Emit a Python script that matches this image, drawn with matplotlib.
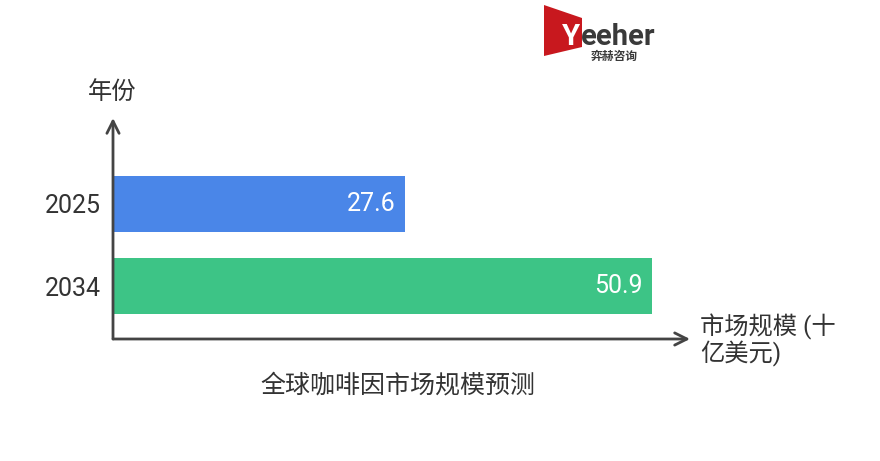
import matplotlib
matplotlib.use("Agg")
import matplotlib.pyplot as plt
from matplotlib.patches import Polygon

plt.rcParams['font.family'] = ['Roboto', 'Noto Sans CJK SC', 'DejaVu Sans']

years = ["2025", "2034"]
values = [27.6, 50.9]
colors = ["#4a86e8", "#3dc486"]
title = "全球咖啡因市场规模预测"
xlabel = "市场规模 (十\n亿美元)"
ylabel = "年份"

W, H = 880, 461
fig = plt.figure(figsize=(W / 100, H / 100), dpi=100)

# axes box in pixels: origin (113, 339), top 118, right 690
x0, y0, x1, y1 = 113, 339, 690, 118
ax = fig.add_axes([x0 / W, (H - y0) / H, (x1 - x0) / W, (y0 - y1) / H])
ax.set_xlim(0, (x1 - x0) / 10.58)
ax.set_ylim(1.64, -1.04)

pos = list(range(len(years)))
ax.barh(pos, values, height=0.68, color=colors)
for p, v in zip(pos, values):
    ax.text(v - 0.85, p, f"{v}", color="white", fontsize=18,
            ha="right", va="center")

ax.set_yticks(pos)
ax.set_yticklabels(years, fontsize=18, color="#333333")
ax.tick_params(axis="y", length=0, pad=9)
ax.set_xticks([])
for s in ax.spines.values():
    s.set_visible(False)

axis_col = "#444444"
ax.annotate("", xy=(0, 1.0), xytext=(0, 0), xycoords="axes fraction",
            arrowprops=dict(arrowstyle="->", lw=2, color=axis_col,
                            mutation_scale=22, shrinkA=0, shrinkB=0))
ax.annotate("", xy=(1.0, 0), xytext=(0, 0), xycoords="axes fraction",
            arrowprops=dict(arrowstyle="->", lw=2, color=axis_col,
                            mutation_scale=22, shrinkA=0, shrinkB=0))

fig.text(112 / W, 1 - 92 / H, ylabel, fontsize=17.5, color="#333333",
         ha="center", va="center")
fig.text(700 / W, 1 - 340 / H, xlabel, fontsize=17.5, color="#333333",
         ha="left", va="center", linespacing=1.05)
fig.text(398 / W, 1 - 385 / H, title, fontsize=18, color="#333333",
         ha="center", va="center")

# logo
logo = Polygon([(544 / W, 1 - 5 / H), (582 / W, 1 - 18 / H),
                (582 / W, 1 - 47 / H), (544 / W, 1 - 56 / H)],
               closed=True, transform=fig.transFigure,
               facecolor="#c8181e", edgecolor="none")
fig.patches.append(logo)
fig.text(562 / W, 1 - 45 / H, "Y", fontsize=21, fontweight="bold",
         color="white", ha="left", va="baseline")
fig.text(581 / W, 1 - 45 / H, "eeher", fontsize=21, fontweight="bold",
         color="#3a3a3a", ha="left", va="baseline")
fig.text(614 / W, 1 - 60 / H, "弈赫咨询", fontsize=8.5, fontweight="bold",
         color="#3a3a3a", ha="center", va="baseline")

fig.savefig("out.png", dpi=100)
